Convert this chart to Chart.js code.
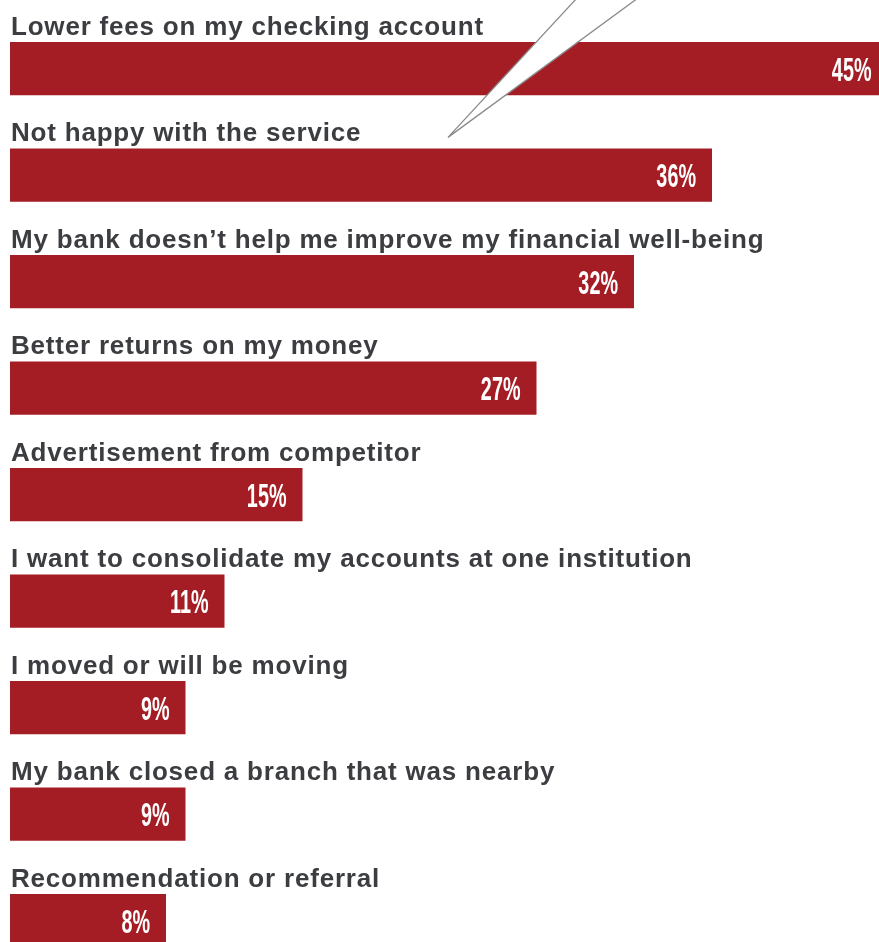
<!DOCTYPE html>
<html lang="en">
<head>
<meta charset="UTF-8">
<title>Reasons for switching banks</title>
<script src="https://cdn.jsdelivr.net/npm/chart.js"></script>
<style>
  html, body { margin: 0; padding: 0; background: #fff; overflow: hidden; }
  #wrap { width: 890px; height: 980px; }
</style>
</head>
<body>
<div id="wrap">
  <canvas id="razones" width="890" height="980"></canvas>
</div>
<script>
  // Survey answers and share of respondents (%)
  const reasons = [
    'Lower fees on my checking account',
    'Not happy with the service',
    'My bank doesn\u2019t help me improve my financial well-being',
    'Better returns on my money',
    'Advertisement from competitor',
    'I want to consolidate my accounts at one institution',
    'I moved or will be moving',
    'My bank closed a branch that was nearby',
    'Recommendation or referral'
  ];
  const shares = [45, 36, 32, 27, 15, 11, 9, 9, 8];
  const valueLabels = ['45%', '36%', '32%', '27%', '15%', '11%', '9%', '9%', '8%'];

  const barRed = '#a51d24';
  const labelGray = '#3b3d40';

  // draws the caption above each bar, the value inside it and the speech wedge
  const barText = {
    id: 'barText',
    afterDatasetsDraw(chart) {
      const ctx = chart.ctx;
      const bars = chart.getDatasetMeta(0).data;
      const area = chart.chartArea;
      ctx.save();

      bars.forEach((bar, i) => {
        const half = bar.height / 2;
        // caption
        ctx.save();
        ctx.fillStyle = labelGray;
        ctx.font = 'bold 26px "Liberation Sans", Arial, sans-serif';
        ctx.letterSpacing = '0.8px';
        ctx.textAlign = 'left';
        ctx.textBaseline = 'alphabetic';
        ctx.fillText(reasons[i], area.left + 1, bar.y - half - 7);
        ctx.restore();

        // value, narrow white figures
        ctx.save();
        ctx.translate(bar.x - 16, bar.y + 12);
        ctx.scale(0.6, 1);
        ctx.fillStyle = '#fff';
        ctx.font = 'bold 33px "Liberation Sans", Arial, sans-serif';
        ctx.textAlign = 'right';
        ctx.fillText(valueLabels[i], 0, 0);
        ctx.restore();
      });

      // callout wedge pointing at the second answer
      const b2 = bars[1];
      const tipX = area.left + 438;
      const tipY = b2.y - b2.height / 2 - 11;
      ctx.beginPath();
      ctx.moveTo(area.left + 567, -2);
      ctx.lineTo(tipX, tipY);
      ctx.lineTo(area.left + 628, -2);
      ctx.closePath();
      ctx.fillStyle = '#fff';
      ctx.fill();
      ctx.strokeStyle = '#8a8a8a';
      ctx.lineWidth = 1.3;
      ctx.stroke();

      ctx.restore();
    }
  };

  new Chart(document.getElementById('razones'), {
    type: 'bar',
    data: {
      labels: reasons,
      datasets: [{
        data: shares,
        backgroundColor: barRed,
        borderWidth: 0,
        categoryPercentage: 1,
        barPercentage: 0.5
      }]
    },
    options: {
      indexAxis: 'y',
      responsive: false,
      animation: false,
      layout: { padding: { left: 10, right: 2.5, top: 15.25, bottom: 6.25 } },
      plugins: {
        legend: { display: false },
        tooltip: { enabled: false }
      },
      scales: {
        x: { display: false, min: 0, max: 45 },
        y: { display: false }
      }
    },
    plugins: [barText]
  });
</script>
</body>
</html>
